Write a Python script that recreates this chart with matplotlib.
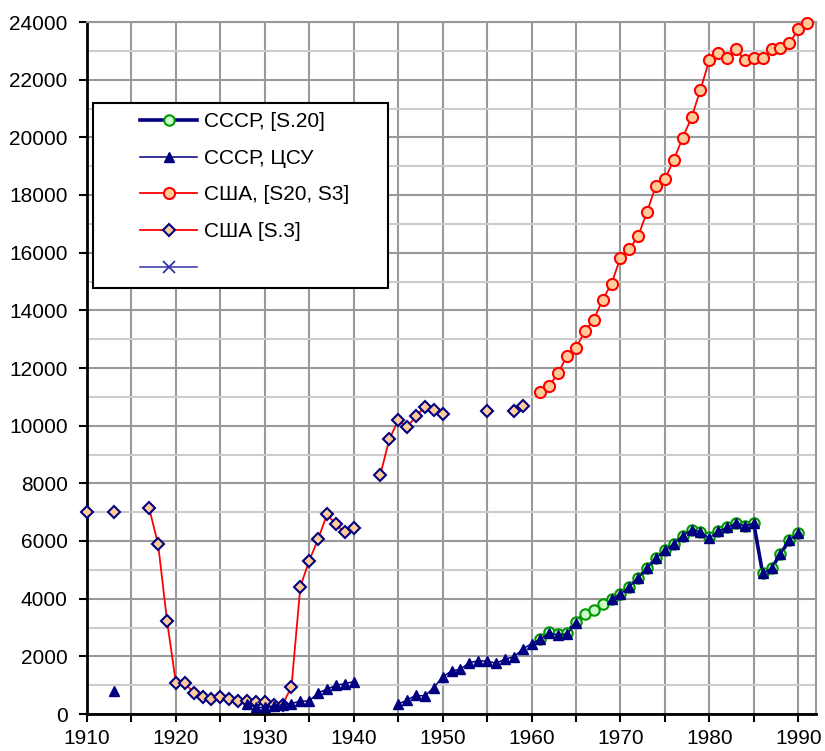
import numpy as np
import matplotlib.pyplot as plt
from matplotlib.patches import Rectangle
from matplotlib.ticker import MultipleLocator

plt.rcParams["font.family"] = ["Liberation Sans", "DejaVu Sans"]

# USSR, [S.20]
ussr_s20_years = list(range(1961, 1991))
ussr_s20 = [2615, 2858, 2790, 2824, 3206, 3461, 3600, 3809, 3983, 4157,
            4411, 4712, 5060, 5394, 5685, 5893, 6182, 6390, 6321, 6147,
            6332, 6470, 6609, 6529, 6609, 4873, 5060, 5546, 6032, 6262]

# USSR, CSU (NaN = gap in the line)
ussr_csu_years = ([1913, 1914] + list(range(1928, 1942))
                  + list(range(1945, 1967)) + list(range(1969, 1991)))
ussr_csu = ([800, np.nan]
            + [330, 230, 230, 280, 320, 360, 450, 450, 740, 857, 995, 1053,
               1122, np.nan]
            + [337, 486, 649, 625, 914, 1285, 1493, 1551, 1782, 1840, 1840,
               1760, 1900, 1980, 2247, 2442, 2594, 2802, 2744, 2778, 3150,
               np.nan]
            + [3983, 4157, 4411, 4712, 5060, 5394, 5685, 5893, 6182, 6390,
               6321, 6100, 6332, 6470, 6609, 6529, 6609, 4873, 5060, 5546,
               6032, 6262])

# USA, [S20, S3]
usa_s20_years = list(range(1961, 1992))
usa_s20 = [11183, 11391, 11819, 12433, 12700, 13267, 13673, 14368, 14924,
           15827, 16115, 16577, 17424, 18327, 18546, 19217, 19981, 20688,
           21648, 22679, 22911, 22757, 23048, 22679, 22757, 22757, 23048,
           23107, 23256, 23745, 23954]

# USA [S.3]
usa_s3_years = ([1910, 1911, 1913, 1914]
                + list(range(1917, 1942))
                + list(range(1943, 1952)) + [1955, 1956, 1958, 1959])
usa_s3 = ([7000, np.nan, 7000, np.nan]
          + [7130, 5880, 3240, 1070, 1070, 740, 590, 520, 590, 520, 450,
             450, 400, 410, 320, 320, 950, 4420, 5320, 6070, 6920, 6580,
             6300, 6440, np.nan]
          + [8300, 9530, 10180, 9950, 10320, 10660, 10530, 10390, np.nan]
          + [10500, np.nan, 10520, 10670])

fig = plt.figure(figsize=(8.25, 7.51), dpi=100)
ax = fig.add_axes([87 / 825, 1 - 714 / 751, (816 - 87) / 825, (714 - 22) / 751])

ax.plot(ussr_s20_years, ussr_s20, color="#000080", lw=2.6, marker="o",
        ms=7.5, mfc="#ccffcc", mec="#009900", mew=1.5, label="СССР, [S.20]",
        zorder=3, clip_on=False)
ax.plot(ussr_csu_years, ussr_csu, color="#000080", lw=1.1, marker="^",
        ms=7, mfc="#000080", mec="#000080", label="СССР, ЦСУ", zorder=4,
        clip_on=False)
ax.plot(usa_s20_years, usa_s20, color="#ff0000", lw=1.3, marker="o",
        ms=8, mfc="#ffcc99", mec="#ff0000", mew=1.5, label="США, [S20, S3]",
        zorder=3, clip_on=False)
ax.plot(usa_s3_years, usa_s3, color="#ff0000", lw=1.3, marker="D",
        ms=6.5, mfc="#ffcc99", mec="#000080", mew=1.5, label="США [S.3]",
        zorder=3, clip_on=False)
ax.plot([], [], color="#3333aa", lw=1.1, marker="x", ms=9, mew=1.3,
        label=" ")

ax.set_xlim(1910, 1992)
ax.set_ylim(0, 24000)
ax.xaxis.set_major_locator(MultipleLocator(10))
ax.xaxis.set_minor_locator(MultipleLocator(5))
ax.yaxis.set_major_locator(MultipleLocator(2000))
ax.yaxis.set_minor_locator(MultipleLocator(1000))

ax.grid(which="major", color="#999999", lw=1.5)
ax.grid(which="minor", axis="x", color="#999999", lw=1.5)
ax.grid(which="minor", axis="y", color="#cccccc", lw=1.5)
ax.set_axisbelow(True)

ax.tick_params(axis="both", which="both", direction="out", length=6,
               width=1.5, labelsize=15, color="black")
ax.tick_params(axis="y", which="minor", length=0)
ax.tick_params(axis="x", pad=5)
ax.tick_params(axis="y", pad=8)

for side in ["left", "bottom"]:
    ax.spines[side].set_color("black")
    ax.spines[side].set_linewidth(2)
for side in ["top", "right"]:
    ax.spines[side].set_color("#999999")
    ax.spines[side].set_linewidth(1.5)

# legend box drawn by hand, legend itself without frame
box = Rectangle((93 / 825, 1 - 288 / 751), (388 - 93) / 825, (288 - 103) / 751,
                transform=fig.transFigure, facecolor="white",
                edgecolor="black", lw=1.5, zorder=6, clip_on=False)
ax.add_patch(box)

leg = ax.legend(loc="center left", bbox_to_anchor=(140 / 825, 1 - 195 / 751),
                bbox_transform=fig.transFigure, fontsize=15, frameon=False,
                handlelength=2.75, borderpad=0, borderaxespad=0,
                labelspacing=0.85, handletextpad=0.3)
leg.set_zorder(10)

fig.savefig("out.png", dpi=100)
